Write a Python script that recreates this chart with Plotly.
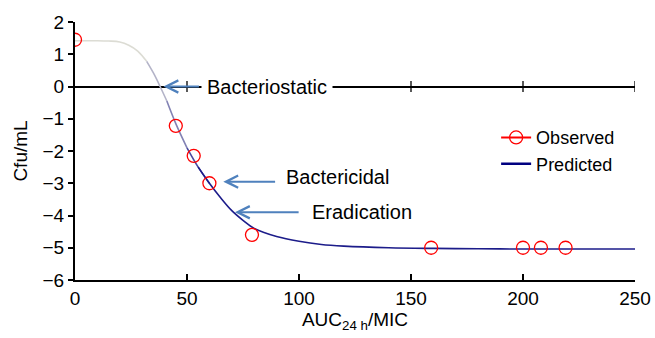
import plotly.graph_objects as go

# Observed data
obs_x = [0, 45, 53, 60, 79, 159, 200, 208, 219]
obs_y = [1.45, -1.22, -2.15, -3.0, -4.6, -5.0, -5.0, -5.0, -5.0]

# Predicted curve
pred_x = [0, 5, 10, 15, 20, 24, 28, 32, 35, 38, 41, 45, 50, 55, 60, 65, 70, 75, 80,
          90, 100, 110, 120, 140, 160, 180, 200, 220, 250]
pred_y = [1.42, 1.42, 1.42, 1.41, 1.38, 1.28, 1.10, 0.78, 0.42, 0.0, -0.45, -1.15, -1.9,
          -2.5, -3.0, -3.45, -3.85, -4.15, -4.4, -4.65, -4.8, -4.9, -4.95, -5.0, -5.02,
          -5.03, -5.04, -5.04, -5.04]

x_ticks = [0, 50, 100, 150, 200, 250]
y_ticks = [-6, -5, -4, -3, -2, -1, 0, 1, 2]

# Annotations: label, arrow head (x, y), arrow tail x, text x, text y
labels = ["Bacteriostatic", "Bactericidal", "Eradication"]
head_x = [39.5, 66.2, 71.4]
head_y = [0.0, -2.95, -3.9]
tail_x = [56, 90, 100.5]
text_x = [56.3, 91.4, 103.3]
text_y = [0.0, -2.8, -3.9]

FONT = "Arial, Liberation Sans, sans-serif"
NAVY = "#1c1c8a"

fig = go.Figure()

# Predicted curve drawn in colour groups (grey fading to navy)
groups = [(0, 7, "#dcdcd4"), (7, 10, "#b4b4c8"), (10, 12, "#8282b4"), (12, 14, "#4a4aa0"),
          (13, len(pred_x) - 1, NAVY)]
for a, b, col in groups:
    fig.add_trace(go.Scatter(x=pred_x[a:b + 1], y=pred_y[a:b + 1], mode="lines",
                             line=dict(color=col, width=1.6, shape="spline"),
                             showlegend=False, hoverinfo="skip"))

# Tick marks on the y=0 line
fig.add_trace(go.Scatter(x=x_ticks[1:], y=[0] * (len(x_ticks) - 1), mode="markers",
                         marker=dict(symbol="line-ns-open", size=8, color="black",
                                     line=dict(color="black", width=1.3)),
                         showlegend=False, hoverinfo="skip"))

# Observed points
fig.add_trace(go.Scatter(x=obs_x, y=obs_y, mode="markers",
                         marker=dict(symbol="circle-open", size=13, color="#ff0000",
                                     line=dict(color="#ff0000", width=1.3)),
                         showlegend=False))

# Legend entries
fig.add_trace(go.Scatter(x=[None], y=[None], mode="lines+markers", name="Observed",
                         line=dict(color="#ff0000", width=2),
                         marker=dict(symbol="circle-open", size=13, color="#ff0000",
                                     line=dict(color="#ff0000", width=1.3))))
fig.add_trace(go.Scatter(x=[None], y=[None], mode="lines", name="Predicted",
                         line=dict(color="#000080", width=2.5)))

annotations = []
for lab, hx, hy, tx, lx, ly in zip(labels, head_x, head_y, tail_x, text_x, text_y):
    annotations.append(dict(x=hx, y=hy, ax=tx, ay=hy, xref="x", yref="y", axref="x", ayref="y",
                            text="", showarrow=True, arrowhead=5, arrowsize=1.2,
                            arrowwidth=2, arrowcolor="#4f81bd", standoff=0))
    annotations.append(dict(x=lx, y=ly, xref="x", yref="y", text=lab, showarrow=False,
                            xanchor="left", yanchor="middle", bgcolor="white", borderpad=5,
                            font=dict(family=FONT, size=20, color="black")))

fig.update_layout(
    width=655, height=338,
    margin=dict(l=75, r=20, t=22, b=58),
    plot_bgcolor="white", paper_bgcolor="white",
    font=dict(family=FONT, size=18, color="black"),
    showlegend=True,
    legend=dict(x=0.752, y=0.623, xanchor="left", yanchor="top",
                font=dict(family=FONT, size=18, color="black"),
                bgcolor="rgba(0,0,0,0)", tracegroupgap=0),
    annotations=annotations,
    xaxis=dict(range=[0, 250], tickvals=x_ticks, showgrid=False, zeroline=False,
               automargin=False,
               showline=True, linecolor="black", linewidth=2,
               ticks="inside", ticklen=6, tickwidth=1.5, tickcolor="black",
               tickfont=dict(family=FONT, size=19),
               title=dict(text="AUC<sub>24 h</sub>/MIC", font=dict(family=FONT, size=19),
                          standoff=4)),
    yaxis=dict(range=[-6, 2], tickvals=y_ticks, showgrid=False, automargin=False,
               zeroline=True, zerolinecolor="black", zerolinewidth=1.5,
               showline=True, linecolor="black", linewidth=2,
               ticks="outside", ticklen=5, tickwidth=1.5, tickcolor="black",
               tickfont=dict(family=FONT, size=19),
               title=dict(text="Cfu/mL", font=dict(family=FONT, size=19), standoff=10)),
)

fig.write_html("out.html")
